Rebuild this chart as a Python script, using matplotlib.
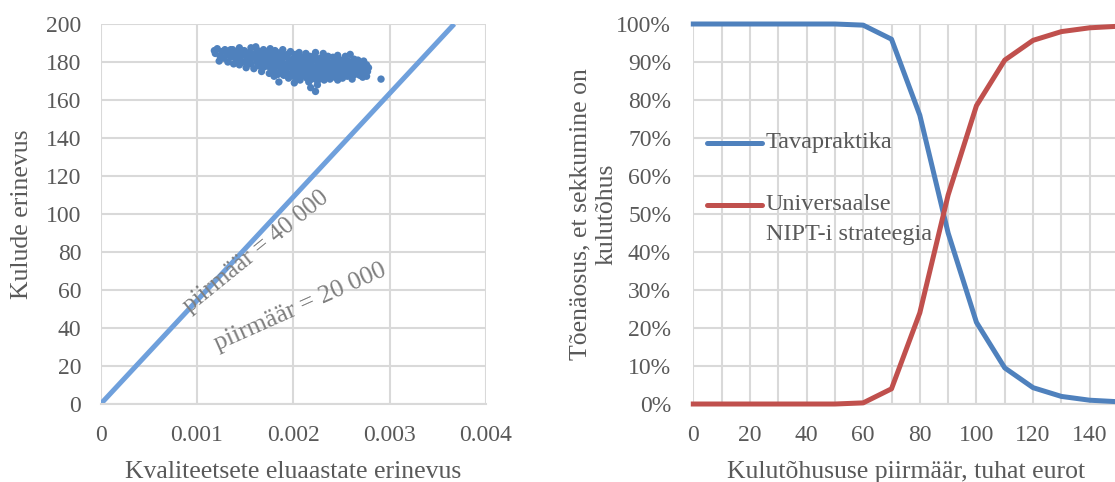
import numpy as np
import matplotlib
matplotlib.use('Agg')
import matplotlib.pyplot as plt
from matplotlib.ticker import FuncFormatter

plt.rcParams['font.family'] = ['Liberation Serif', 'DejaVu Serif']

# --- left panel: simulated cost / QALY differences
points = [
    (0.00118, 186.0), (0.00119, 184.5), (0.00121, 187.0), (0.00123, 180.5), (0.00124, 183.0), (0.00126, 185.5),
    (0.00128, 182.0), (0.00129, 186.5), (0.00131, 184.0), (0.00132, 180.0), (0.00134, 185.0), (0.00135, 182.5),
    (0.00137, 186.5), (0.00138, 179.0), (0.00139, 183.5), (0.00141, 181.0), (0.00142, 185.5), (0.00144, 187.5),
    (0.00144, 178.5), (0.00145, 182.5),
    (0.00147, 184.5), (0.00148, 180.0), (0.00149, 186.0), (0.00151, 177.0), (0.00152, 183.0), (0.00153, 181.5),
    (0.00154, 185.0), (0.00156, 179.0), (0.00156, 187.5),
    (0.00158, 182.5), (0.00159, 176.5), (0.00160, 184.5), (0.00161, 188.0), (0.00162, 180.0), (0.00163, 186.0),
    (0.00164, 178.0), (0.00165, 182.0), (0.00166, 184.0),
    (0.00167, 175.0), (0.00168, 180.5), (0.00169, 186.5), (0.00170, 177.5), (0.00171, 183.0), (0.00172, 179.0),
    (0.00173, 185.0), (0.00174, 181.5), (0.00175, 174.0), (0.00176, 187.0), (0.00176, 177.0),
    (0.00177, 182.5), (0.00178, 179.5), (0.00179, 184.0), (0.00180, 172.5), (0.00180, 176.0), (0.00181, 186.0),
    (0.00182, 180.5), (0.00183, 178.0), (0.00184, 182.0), (0.00185, 174.5), (0.00186, 184.5), (0.00185, 169.5),
    (0.00187, 177.0), (0.00188, 180.0), (0.00189, 186.5), (0.00190, 173.0), (0.00191, 182.5), (0.00192, 175.5),
    (0.00193, 179.0), (0.00194, 184.0), (0.00195, 171.5), (0.00196, 177.5), (0.00196, 181.0),
    (0.00197, 185.5), (0.00198, 174.0), (0.00199, 179.5), (0.00201, 169.0), (0.00200, 182.0), (0.00201, 176.5),
    (0.00202, 184.0), (0.00203, 172.0), (0.00204, 178.0), (0.00205, 181.0), (0.00206, 174.5), (0.00206, 185.0),
    (0.00207, 170.5), (0.00208, 177.0), (0.00209, 182.5), (0.00210, 175.0), (0.00211, 179.5), (0.00212, 172.5),
    (0.00213, 184.5), (0.00214, 176.0), (0.00215, 180.5), (0.00216, 169.5), (0.00216, 174.0),
    (0.00217, 183.0), (0.00218, 178.0), (0.00219, 171.0), (0.00220, 175.5), (0.00221, 181.5), (0.00218, 166.5),
    (0.00222, 173.5), (0.00223, 185.0), (0.00224, 177.0), (0.00225, 170.0), (0.00225, 168.0), (0.00226, 179.5),
    (0.00223, 164.5),
    (0.00227, 174.5), (0.00228, 182.0), (0.00229, 172.0), (0.00230, 176.5), (0.00231, 184.5), (0.00232, 170.5),
    (0.00233, 178.5), (0.00234, 174.0), (0.00235, 180.5), (0.00236, 172.5), (0.00236, 183.0),
    (0.00237, 176.0), (0.00238, 171.0), (0.00239, 179.0), (0.00240, 174.5), (0.00241, 182.5), (0.00242, 177.5),
    (0.00243, 172.0), (0.00244, 180.0), (0.00245, 175.0), (0.00246, 183.5), (0.00246, 170.5),
    (0.00247, 178.0), (0.00248, 173.5), (0.00249, 181.0), (0.00250, 176.0), (0.00251, 171.5), (0.00252, 179.5),
    (0.00253, 174.5), (0.00254, 183.0), (0.00255, 177.0), (0.00256, 172.5),
    (0.00257, 180.5), (0.00258, 175.5), (0.00259, 184.0), (0.00260, 178.5), (0.00261, 171.0), (0.00262, 173.5),
    (0.00263, 181.5), (0.00264, 176.5), (0.00265, 179.0), (0.00266, 174.0),
    (0.00267, 181.0), (0.00268, 177.0), (0.00269, 173.0), (0.00270, 179.5), (0.00271, 175.5), (0.00272, 172.0),
    (0.00273, 180.5), (0.00274, 177.5), (0.00275, 174.0), (0.00276, 178.5), (0.00277, 175.0), (0.00278, 177.0),
    (0.00276, 172.5),
    (0.00291, 171.0),
    # denser core
    (0.00162, 183.5), (0.00165, 179.5), (0.00168, 177.0), (0.00171, 185.5), (0.00173, 181.0), (0.00175, 178.5),
    (0.00178, 175.5), (0.00180, 183.0), (0.00183, 185.0), (0.00184, 173.5), (0.00187, 181.5), (0.00189, 176.0),
    (0.00190, 183.5), (0.00192, 178.5), (0.00194, 173.5), (0.00197, 180.5), (0.00198, 177.0), (0.00200, 172.5),
    (0.00202, 179.0), (0.00203, 175.5), (0.00205, 183.5), (0.00207, 180.0), (0.00208, 173.0), (0.00210, 178.0),
    (0.00212, 181.5), (0.00214, 171.5), (0.00215, 177.5), (0.00217, 174.5), (0.00219, 180.0), (0.00221, 177.5),
    (0.00222, 183.5), (0.00224, 172.0), (0.00227, 178.0), (0.00229, 180.5), (0.00231, 174.0), (0.00233, 182.0),
    (0.00235, 176.5), (0.00238, 174.0), (0.00240, 179.5), (0.00242, 173.5), (0.00244, 177.0), (0.00247, 181.5),
    (0.00249, 175.0), (0.00251, 178.5), (0.00253, 180.0), (0.00256, 175.0), (0.00258, 179.0), (0.00261, 177.0),
    (0.00264, 173.5), (0.00266, 180.0), (0.00269, 178.0), (0.00272, 176.0), (0.00150, 183.5), (0.00153, 179.0),
    (0.00156, 182.0), (0.00140, 184.5), (0.00135, 186.5),
]
qaly_diff = [p[0] for p in points]
cost_diff = [p[1] for p in points]

# threshold line (drawn) through the origin
wtp_line_x = [0.0, 0.00367]
wtp_line_y = [0.0, 200.0]

# --- right panel: cost-effectiveness acceptability curves
threshold_k = [0, 10, 20, 30, 40, 50, 60, 70, 80, 90, 100, 110, 120, 130, 140, 150]
p_usual = [100, 100, 100, 100, 100, 100, 99.7, 96, 76, 45, 21.5, 9.5, 4.3, 2.0, 1.0, 0.6]
p_nipt = [0, 0, 0, 0, 0, 0, 0.3, 4, 24, 55, 78.5, 90.5, 95.7, 98.0, 99.0, 99.4]

grid_c = '#d9d9d9'
txt_c = '#595959'
fs_tick = 17
fs_lab = 18.5

fig = plt.figure(figsize=(11.15, 4.82), dpi=100)
ax1 = fig.add_axes([0.0903, 0.1618, 0.3456, 0.7884])
ax2 = fig.add_axes([0.6218, 0.1618, 0.3809, 0.7884])

# left
ax1.scatter(qaly_diff, cost_diff, s=28, color='#4f81bd', edgecolors='none', zorder=3)
ax1.plot(wtp_line_x, wtp_line_y, color='#6fa0dc', lw=3.6, zorder=2, solid_capstyle='butt')
ax1.set_xlim(0, 0.004)
ax1.set_ylim(0, 200)
ax1.set_xticks([0, 0.001, 0.002, 0.003, 0.004])
ax1.set_yticks(range(0, 201, 20))
ax1.xaxis.set_major_formatter(FuncFormatter(lambda v, p: '0' if v == 0 else '%.3f' % v))
ax1.set_xlabel('Kvaliteetsete eluaastate erinevus', fontsize=fs_lab, color=txt_c, labelpad=11)
ax1.set_ylabel('Kulude erinevus', fontsize=fs_lab, color=txt_c, labelpad=9)
ax1.text(0.001612, 80.2, 'piirmäär = 40 000', rotation=39, rotation_mode='anchor',
         ha='center', va='center', fontsize=18, color='#7f7f7f', zorder=4)
ax1.text(0.002076, 51.2, 'piirmäär = 20 000', rotation=24, rotation_mode='anchor',
         ha='center', va='center', fontsize=18.5, color='#7f7f7f', zorder=4)

# right
ax2.plot(threshold_k, p_usual, color='#4f81bd', lw=3.6, zorder=3, clip_on=False)
ax2.plot(threshold_k, p_nipt, color='#c0504d', lw=3.6, zorder=3, clip_on=False)
ax2.set_xlim(0, 150)
ax2.set_ylim(0, 100)
ax2.set_xticks(range(0, 151, 10))
ax2.set_xticklabels([str(v) if v % 20 == 0 else '' for v in range(0, 151, 10)])
ax2.set_yticks(range(0, 101, 10))
ax2.set_yticklabels(['%d%%' % v for v in range(0, 101, 10)])
ax2.set_xlabel('Kulutõhususe piirmäär, tuhat eurot', fontsize=fs_lab, color=txt_c, labelpad=11)
ax2.set_ylabel('Tõenäosus, et sekkumine on\nkulutõhus', fontsize=fs_lab, color=txt_c,
               labelpad=-1, linespacing=1.22)

# legend drawn by hand so the handle sits on the first text line
ax2.plot([0.032, 0.161], [0.687, 0.687], transform=ax2.transAxes, color='#4f81bd',
         lw=3.6, solid_capstyle='round', zorder=4)
ax2.text(0.171, 0.687, 'Tavapraktika', transform=ax2.transAxes, ha='left', va='center',
         fontsize=17.5, color=txt_c, zorder=4)
ax2.plot([0.032, 0.161], [0.524, 0.524], transform=ax2.transAxes, color='#c0504d',
         lw=3.6, solid_capstyle='round', zorder=4)
ax2.text(0.171, 0.524, 'Universaalse', transform=ax2.transAxes, ha='left', va='center',
         fontsize=17.5, color=txt_c, zorder=4)
ax2.text(0.171, 0.445, 'NIPT-i strateegia', transform=ax2.transAxes, ha='left', va='center',
         fontsize=17.5, color=txt_c, zorder=4)

for ax in (ax1, ax2):
    ax.grid(True, color=grid_c, lw=1.5, zorder=0)
    ax.set_axisbelow(True)
    for s in ax.spines.values():
        s.set_visible(False)
    ax.spines['bottom'].set_visible(True)
    ax.spines['bottom'].set_color(grid_c)
    ax.spines['bottom'].set_linewidth(1.5)
    ax.tick_params(length=0, labelsize=fs_tick, labelcolor=txt_c)
    ax.tick_params(axis='x', pad=15)
ax1.tick_params(axis='y', pad=14)
ax2.tick_params(axis='y', pad=16)

fig.savefig('out.png', dpi=100)
